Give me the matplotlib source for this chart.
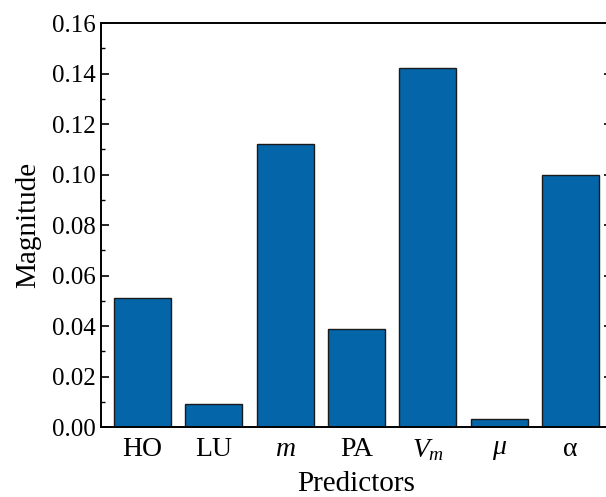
import matplotlib
matplotlib.use('Agg')
import matplotlib.pyplot as plt
from matplotlib.ticker import MultipleLocator
import numpy as np

plt.rcParams['font.family'] = ['Liberation Serif', 'DejaVu Serif']
plt.rcParams['mathtext.fontset'] = 'custom'
plt.rcParams['mathtext.rm'] = 'Liberation Serif'
plt.rcParams['mathtext.it'] = 'Liberation Serif:italic'

predictors = ['HO', 'LU', r'$m$', 'PA', r'$V_m$', r'$\mu$', 'α']
magnitude = [0.051, 0.009, 0.112, 0.039, 0.142, 0.003, 0.100]

fig = plt.figure(figsize=(6.06, 4.97), dpi=100)
ax = fig.add_axes([0.1667, 0.1408, 0.843, 0.8129])

x = np.arange(len(predictors))
ax.bar(x, magnitude, width=0.8, color='#0565a9', edgecolor='#1a1a1a', linewidth=1.0)

ax.set_xlim(-0.58, 6.58)
ax.set_ylim(0, 0.16)
ax.set_xticks(x)
ax.set_xticklabels(predictors, fontsize=20)
ax.yaxis.set_major_locator(MultipleLocator(0.02))
ax.yaxis.set_minor_locator(MultipleLocator(0.01))
ax.yaxis.set_major_formatter(matplotlib.ticker.FormatStrFormatter('%.2f'))
ax.tick_params(axis='y', which='both', direction='in', right=True, labelsize=18)
ax.tick_params(axis='y', which='major', length=6, width=1.2)
ax.tick_params(axis='y', which='minor', length=3, width=1.0)
ax.tick_params(axis='x', length=0, pad=7)

for s in ax.spines.values():
    s.set_linewidth(1.4)

ax.set_xlabel('Predictors', fontsize=21, labelpad=6)
ax.set_ylabel('Magnitude', fontsize=21, labelpad=8)

fig.savefig('out.png', dpi=100)
